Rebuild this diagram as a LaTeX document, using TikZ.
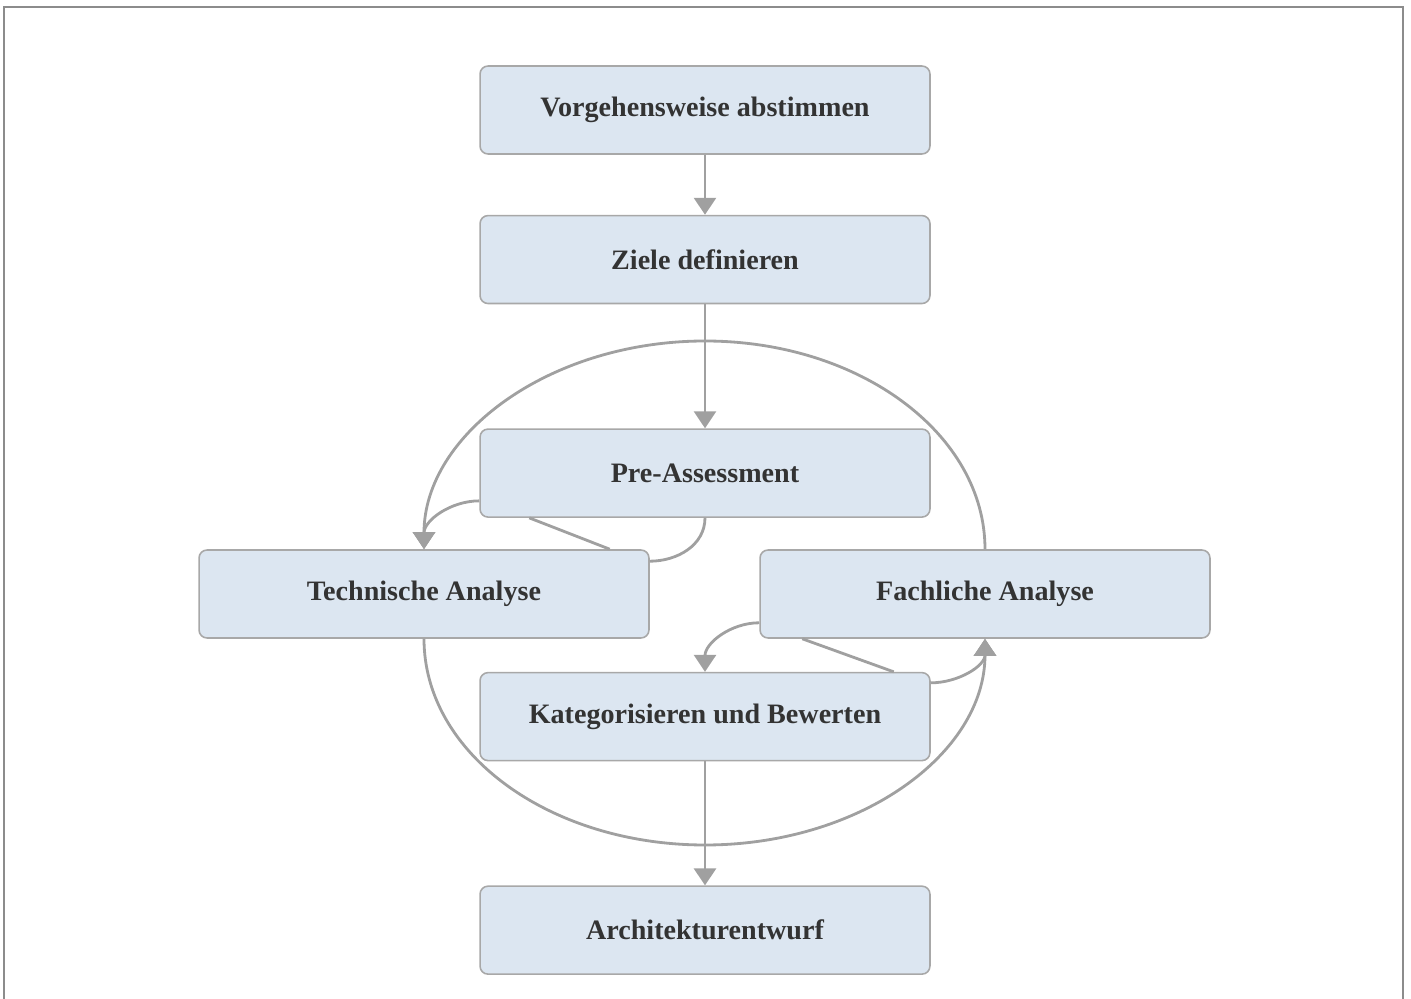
\documentclass[tikz,border=0pt]{standalone}
\usepackage{fontspec}
\setmainfont{Liberation Serif}
\usetikzlibrary{arrows.meta,positioning,calc}
\definecolor{boxfill}{HTML}{DCE6F1}
\definecolor{boxline}{HTML}{A8A8A8}
\definecolor{linegray}{HTML}{A0A0A0}
\definecolor{textgray}{HTML}{333333}
\tikzset{
  procbox/.style={rectangle, rounded corners=0.16cm, draw=boxline, line width=0.9pt,
                  fill=boxfill, minimum width=9cm, minimum height=1.76cm, align=center,
                  font=\fontsize{16}{19}\selectfont\bfseries, text=textgray},
  flowline/.style={draw=linegray, line width=1.6pt},
  flowarr/.style={flowline, -{Triangle[length=0.34cm,width=0.44cm]}},
}

\begin{document}
\begin{tikzpicture}[x=0.02cm,y=0.02cm]
    \useasboundingbox (0,0) rectangle (1411,-999);
    \draw[black!45, line width=1.4pt] (4,-999) -- (4,-7) -- (1403,-7) -- (1403,-999);
    \node[procbox] (vorg) at (705,-110) {Vorgehensweise abstimmen};
    \node[procbox, below=1.20cm of vorg]  (ziele) {Ziele definieren};
    \node[procbox, below=2.48cm of ziele] (pre)   {Pre-Assessment};
    \node[procbox] (tech) at (424,-594) {Technische Analyse};
    \node[procbox] (fach) at (985,-594) {Fachliche Analyse};
    \node[procbox, below=3.08cm of pre]   (kat)   {Kategorisieren und Bewerten};
    \node[procbox, below=2.48cm of kat]   (arch)  {Architekturentwurf};
    \coordinate (arctop) at (705,-341);
    \coordinate (arcbot) at (705,-845);
    \draw[flowarr] (vorg) -- (ziele);
    \draw[flowarr] (ziele) -- (pre);
    \draw[flowarr] (kat) -- (arch);
    % grosse Boegen
    \draw[flowarr] (fach.north) .. controls +(0,115) and +(155,0) .. (arctop)
          .. controls +(-155,0) and +(0,115) .. (tech.north);
    \draw[flowarr] (tech.south) .. controls +(0,-115) and +(-155,0) .. (arcbot)
          .. controls +(155,0) and +(0,-115) .. (fach.south);
    % Pre-Assessment -> Technische Analyse
    \draw[flowarr] ([yshift=0.34cm]pre.south west) to[out=180,in=90] (tech.north);
    \draw[flowline] (pre.south) to[out=-90,in=0] ([yshift=-0.24cm]tech.north east);
    \draw[flowline] ([xshift=1cm]pre.south west) -- ([xshift=-0.8cm]tech.north east);
    % Fachliche Analyse <-> Kategorisieren
    \draw[flowarr] ([yshift=0.32cm]fach.south west) to[out=180,in=90] (kat.north);
    \draw[flowarr] ([yshift=-0.22cm]kat.north east) to[out=0,in=-90] (fach.south);
    \draw[flowline] ([xshift=0.86cm]fach.south west) -- ([xshift=-0.74cm]kat.north east);
\end{tikzpicture}
\end{document}
